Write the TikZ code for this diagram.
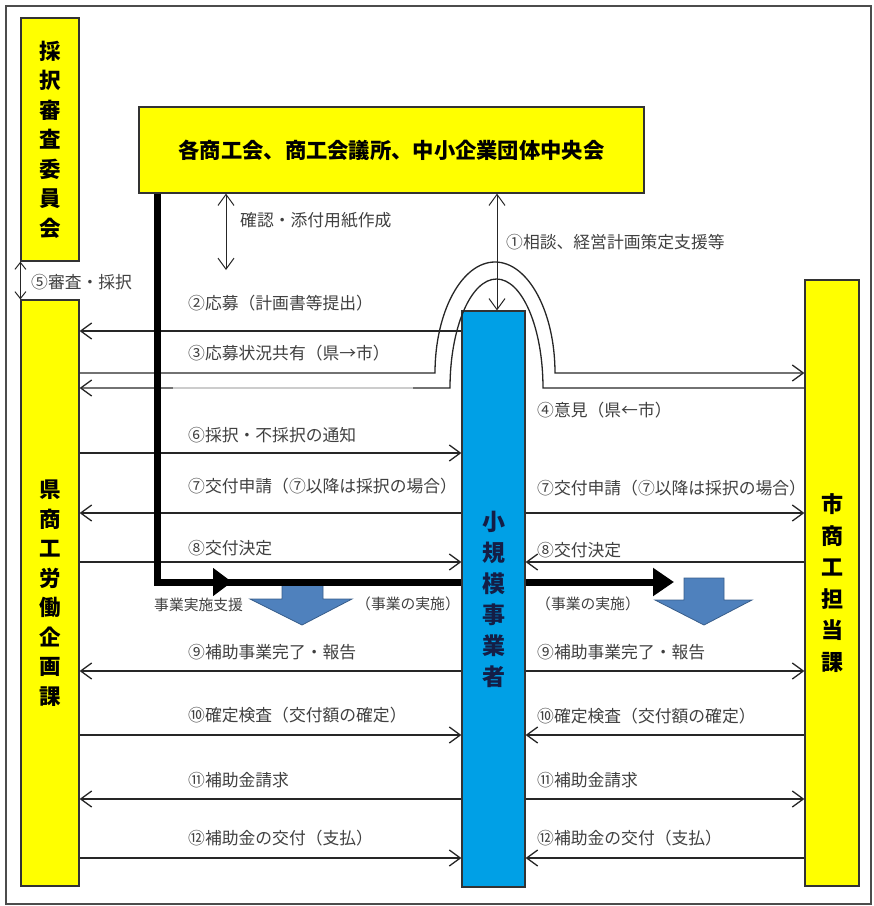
\documentclass[tikz,border=0pt]{standalone}
\usepackage{fontspec}
\setmainfont{Noto Sans CJK JP}
\usetikzlibrary{arrows.meta}
\definecolor{kiiro}{RGB}{255,255,0}
\definecolor{aobox}{RGB}{0,160,230}
\definecolor{yablue}{RGB}{79,129,189}
\definecolor{yaedge}{RGB}{56,93,138}
\definecolor{moji}{RGB}{64,64,64}
\definecolor{kon}{RGB}{20,30,70}

\begin{document}
\begin{tikzpicture}[x=1pt, y=-1pt,
    box/.style={draw=black!80, line width=1.2pt, fill=kiiro, inner sep=0pt, align=center},
    tate/.style={font=\bfseries\fontsize{21.5}{29.5}\selectfont},
    lbl/.style={anchor=west, inner sep=0pt, text=moji, font=\fontsize{16.8}{16.8}\selectfont},
    slbl/.style={lbl, font=\fontsize{14.8}{14.8}\selectfont},
    ln/.style={draw=black!85, line width=1.3pt},
    supp/.style={line width=7pt, black},
    >={Straight Barb[length=11pt,width=16pt]}]
    \useasboundingbox (0,0) rectangle (874,906);
    \draw[black!70, line width=1.5pt] (6,6) rectangle (871,904);
    %
    \node[box, tate, minimum width=58pt, minimum height=243pt] (senkou) at (50,139.5) {採\\択\\審\\査\\委\\員\\会};
    \node[box, tate, minimum width=58pt, minimum height=586pt] (ken) at (50,593) {県\\商\\工\\労\\働\\企\\画\\課};
    \node[box, minimum width=505pt, minimum height=86pt, font=\bfseries\fontsize{21.3}{21.3}\selectfont] (top) at (391.5,150) {各商工会、商工会議所、中小企業団体中央会};
    \node[box, tate, fill=aobox, text=kon, font=\bfseries\fontsize{23}{31}\selectfont, minimum width=63pt, minimum height=576pt] (sme) at (493.5,599) {小\\規\\模\\事\\業\\者};
    \node[box, tate, font=\bfseries\fontsize{22}{31.5}\selectfont, minimum width=54pt, minimum height=606pt] (shi) at (832,583) {市\\商\\工\\担\\当\\課};
    %
    \coordinate (kk) at (226,270);
    \draw[ln, line width=1pt, <->] (top.south -| kk) -- (kk);
    \draw[ln, line width=1pt, <->] (top.south -| 497,0) -- (sme.north -| 497,0);
    \draw[ln, line width=1pt, <->, >={Straight Barb[length=7pt,width=11pt]}] (senkou.south west) -- (ken.north west);
    \node[lbl] (lk) at (240,220) {確認・添付用紙作成};
    \node[lbl] (l1) at (506,242) {①相談、経営計画策定支援等};
    \node[lbl] (l5) at (31,282) {⑤審査・採択};
    %
    % blue block arrows
    \filldraw[fill=yablue, draw=yaedge, line width=0.8pt] (282,583) -- (323,583) -- (323,599) -- (352,599) -- (302,625) -- (250,599) -- (282,599) -- cycle;
    \filldraw[fill=yablue, draw=yaedge, line width=0.8pt] (684,578) -- (724,578) -- (724,600) -- (752,600) -- (704,625) -- (655,600) -- (684,600) -- cycle;
    %
    % ken <-> sme
    \draw[ln, <-] (ken.east |- 0,331) -- (sme.west |- 0,331);
    \draw[ln, ->] (ken.east |- 0,373) -- (435,373) arc[start angle=180, end angle=0, x radius=60pt, y radius=111pt] -- (shi.west |- 0,373);
    \draw[ln, ->] (shi.west |- 0,388) -- (543,388) arc[start angle=0, end angle=180, x radius=46.5pt, y radius=109pt] -- (ken.east |- 0,388);
    \draw[black!20, line width=1.4pt] (173,388) -- (413,388);
    \draw[ln, ->] (ken.east |- 0,453) -- (sme.west |- 0,453);
    \draw[ln, <-] (ken.east |- 0,513) -- (sme.west |- 0,513);
    \draw[ln, ->] (ken.east |- 0,562) -- (sme.west |- 0,562);
    \draw[ln, <-] (ken.east |- 0,671) -- (sme.west |- 0,671);
    \draw[ln, ->] (ken.east |- 0,735) -- (sme.west |- 0,735);
    \draw[ln, <-] (ken.east |- 0,799) -- (sme.west |- 0,799);
    \draw[ln, ->] (ken.east |- 0,858) -- (sme.west |- 0,858);
    % sme <-> shi
    \draw[ln, ->] (sme.east |- 0,513) -- (shi.west |- 0,513);
    \draw[ln, <-] (sme.east |- 0,562) -- (shi.west |- 0,562);
    \draw[ln, ->] (sme.east |- 0,671) -- (shi.west |- 0,671);
    \draw[ln, <-] (sme.east |- 0,735) -- (shi.west |- 0,735);
    \draw[ln, ->] (sme.east |- 0,799) -- (shi.west |- 0,799);
    \draw[ln, <-] (sme.east |- 0,858) -- (shi.west |- 0,858);
    %
    \node[lbl] (l2) at (188,303) {②応募（計画書等提出）};
    \node[lbl] (l3) at (188,353) {③応募状況共有（県→市）};
    \node[lbl] (l4) at (537,410) {④意見（県←市）};
    \node[lbl] (l6) at (188,435) {⑥採択・不採択の通知};
    \node[lbl] (l7a) at (188,486) {⑦交付申請（⑦以降は採択の場合）};
    \node[lbl] (l7b) at (537,488) {⑦交付申請（⑦以降は採択の場合）};
    \node[lbl] (l8a) at (188,548) {⑧交付決定};
    \node[lbl] (l8b) at (537,550) {⑧交付決定};
    \node[lbl] (l9a) at (188,652) {⑨補助事業完了・報告};
    \node[lbl] (l9b) at (537,652) {⑨補助事業完了・報告};
    \node[lbl] (l10a) at (188,715) {⑩確定検査（交付額の確定）};
    \node[lbl] (l10b) at (537,716) {⑩確定検査（交付額の確定）};
    \node[lbl] (l11a) at (188,780) {⑪補助金請求};
    \node[lbl] (l11b) at (537,780) {⑪補助金請求};
    \node[lbl] (l12a) at (188,838) {⑫補助金の交付（支払）};
    \node[lbl] (l12b) at (537,838) {⑫補助金の交付（支払）};
    %
    % support line
    \coordinate (bend) at (157,582);
    \draw[supp] (top.south -| bend) -- (bend) -- (sme.west |- bend);
    \draw[supp, -{Triangle[length=19pt,width=27pt]}] (bend) -- (232,582);
    \draw[supp, -{Triangle[length=21pt,width=27pt]}] (sme.east |- bend) -- (674,582);
    \node[slbl] (ls) at (154,605) {事業実施支援};
    \node[slbl] (lj1) at (356,604) {（事業の実施）};
    \node[slbl] (lj2) at (536,604) {（事業の実施）};
\end{tikzpicture}
\end{document}
